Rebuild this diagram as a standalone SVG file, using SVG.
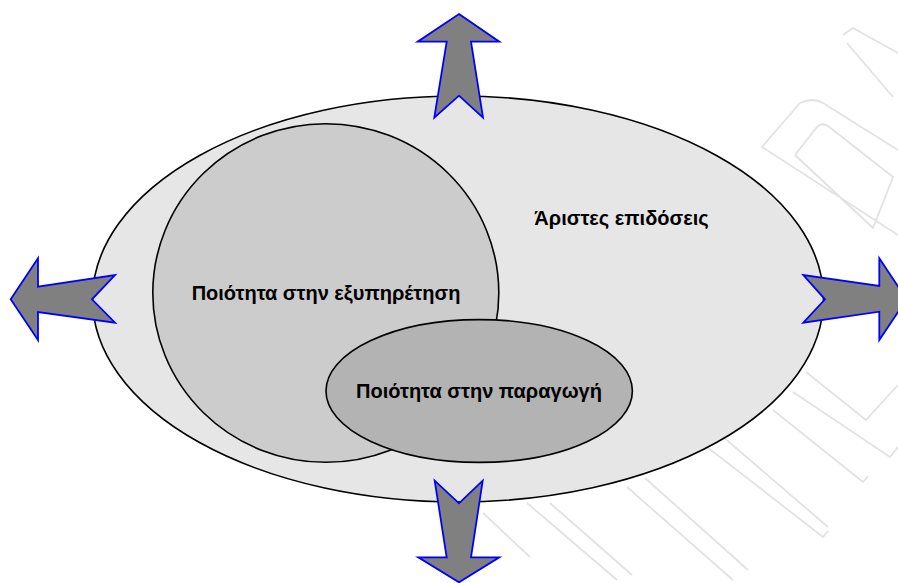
<svg xmlns="http://www.w3.org/2000/svg" width="898" height="583" viewBox="0 0 898 583">
<style>
.ring{stroke:#000;stroke-width:1.6}
.arrow{fill:#808080;stroke:#0000ff;stroke-width:1.8;stroke-linejoin:miter}
.lbl{font-family:"Liberation Sans",Arial,sans-serif;font-weight:bold;font-size:20px;fill:#000;text-anchor:middle}
.wm{fill:none;stroke:#e2e2e2;stroke-width:1.8;stroke-linejoin:round}
</style>
<rect width="898" height="583" fill="#ffffff"/>
<g id="watermark" class="wm">
<path d="M483,513 L530,557"/>
<path d="M527,503 L617,580"/>
<path d="M550,503 L632,575"/>
<path d="M627,487 L733,580"/>
<path d="M645,478 L748,570"/>
<path d="M707,447 L823,537 L828,531"/>
<path d="M722,436 L828,527"/>
<path d="M773,410 L863,482 L868,476"/>
<path d="M806,372 L866,420 L898,385"/>
<path d="M793,392 L890,457 L898,447"/>
<path d="M898,150 L823,103 Q813,97 800,103 L762,147 L898,235"/>
<path d="M795,155 L817,127 Q822,122 828,126 L893,177 L873,228 Z"/>
<path d="M843,35 L853,28 L898,53"/>
<path d="M847,43 L893,97"/>
</g>
<g id="outer">
<ellipse class="ring" cx="458" cy="299" rx="365.5" ry="203" fill="#e6e6e6"/>
<text class="lbl" x="621.5" y="225">Άριστες επιδόσεις</text>
</g>
<g id="service">
<ellipse class="ring" cx="325.8" cy="293" rx="173" ry="169.3" fill="#cccccc"/>
<text class="lbl" x="326" y="300">Ποιότητα στην εξυπηρέτηση</text>
</g>
<g id="production">
<ellipse class="ring" cx="479.2" cy="391" rx="153.2" ry="71.4" fill="#b3b3b3"/>
<text class="lbl" x="479" y="398">Ποιότητα στην παραγωγή</text>
</g>
<g id="connectors">
<polygon id="arrow-up" class="arrow" points="459,14 499.3,41.7 471,41.7 483,117.7 459,95.7 434.3,117.7 446.7,41.7 417.7,41.7"/>
<polygon id="arrow-down" class="arrow" points="459,582.3 499.3,557.3 471,557.3 482.7,480.7 459,503.3 434.7,480.7 446.7,557.3 418.3,557.3"/>
<polygon id="arrow-left" class="arrow" points="10.7,299.3 38,258.3 38,286.7 115,275 92,299.3 115,322.7 38,312 38,340"/>
<polygon id="arrow-right" class="arrow" points="906.6,299.3 879.3,258.3 879.3,286 803.3,275 825,299.3 803.3,322.7 879.3,311.7 879.3,340"/>
</g>
</svg>
